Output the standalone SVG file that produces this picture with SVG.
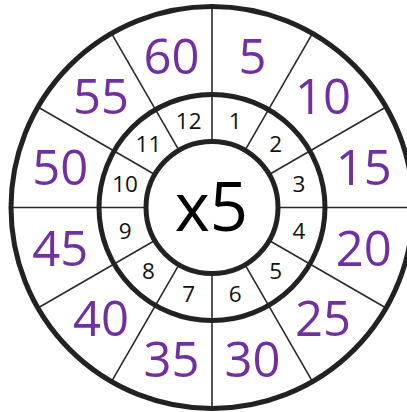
<svg xmlns="http://www.w3.org/2000/svg" width="407" height="412" viewBox="0 0 407 412">
<style>
.ring{fill:none;stroke:#222;stroke-width:5}
.sp{stroke:#2a2a2a;stroke-width:1.6}
.o{font-family:"Open Sans","Liberation Sans",sans-serif;font-size:49px;fill:#7030A0;text-anchor:middle}
.i{font-family:"Open Sans","Liberation Sans",sans-serif;font-size:22.5px;fill:#111;text-anchor:middle}
.c{font-family:"Open Sans","Liberation Sans",sans-serif;font-size:67px;fill:#000;text-anchor:middle}
</style>
<rect width="407" height="412" fill="#fff"/>
<g id="connectors">
<line class="sp" x1="212" y1="141.5" x2="212" y2="6.5"/>
<line class="sp" x1="245" y1="150.3" x2="312.5" y2="33.4"/>
<line class="sp" x1="269.2" y1="174.5" x2="386.1" y2="107"/>
<line class="sp" x1="278" y1="207.5" x2="413" y2="207.5"/>
<line class="sp" x1="269.2" y1="240.5" x2="386.1" y2="308"/>
<line class="sp" x1="245" y1="264.7" x2="312.5" y2="381.6"/>
<line class="sp" x1="212" y1="273.5" x2="212" y2="408.5"/>
<line class="sp" x1="179" y1="264.7" x2="111.5" y2="381.6"/>
<line class="sp" x1="154.8" y1="240.5" x2="37.9" y2="308"/>
<line class="sp" x1="146" y1="207.5" x2="11" y2="207.5"/>
<line class="sp" x1="154.8" y1="174.5" x2="37.9" y2="107"/>
<line class="sp" x1="179" y1="150.3" x2="111.5" y2="33.4"/>
</g>
<g id="outer-ring"><circle class="ring" cx="212" cy="207.5" r="201"/></g>
<g id="middle-ring"><circle class="ring" cx="212" cy="207.5" r="113"/></g>
<g id="center"><circle class="ring" cx="212" cy="207.5" r="66"/>
<text class="c" x="211.5" y="231">x5</text></g>
<g id="inner-labels">
<text class="i" x="235.3" y="128.6">1</text>
<text class="i" x="275.6" y="151.9">2</text>
<text class="i" x="298.9" y="192.2">3</text>
<text class="i" x="298.9" y="238.8">4</text>
<text class="i" x="275.6" y="279.1">5</text>
<text class="i" x="235.3" y="302.4">6</text>
<text class="i" x="188.7" y="302.4">7</text>
<text class="i" x="148.4" y="279.1">8</text>
<text class="i" x="125.1" y="238.8">9</text>
<text class="i" x="125.1" y="192.2">10</text>
<text class="i" x="148.4" y="151.9">11</text>
<text class="i" x="188.7" y="128.6">12</text>
</g>
<g id="outer-labels">
<text class="o" x="252.6" y="73.5">5</text>
<text class="o" x="323" y="114.2">10</text>
<text class="o" x="363.7" y="184.6">15</text>
<text class="o" x="363.7" y="265.8">20</text>
<text class="o" x="323" y="336.2">25</text>
<text class="o" x="252.6" y="376.9">30</text>
<text class="o" x="171.4" y="376.9">35</text>
<text class="o" x="101" y="336.2">40</text>
<text class="o" x="60.3" y="265.8">45</text>
<text class="o" x="60.3" y="184.6">50</text>
<text class="o" x="101" y="114.2">55</text>
<text class="o" x="171.4" y="73.5">60</text>
</g>
</svg>
